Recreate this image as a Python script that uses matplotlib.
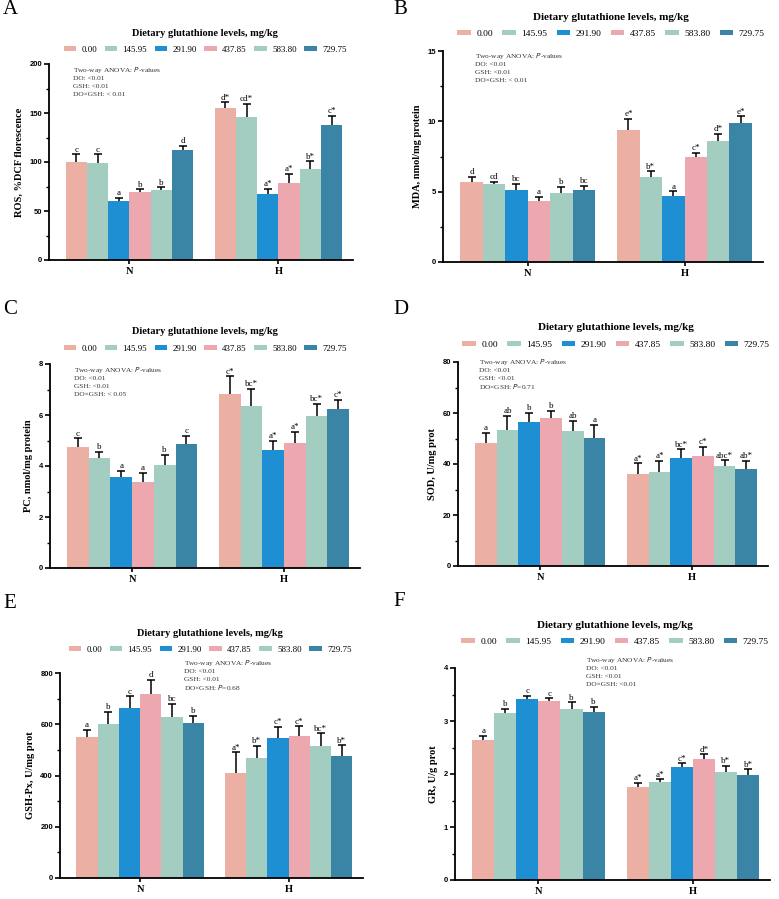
import matplotlib
matplotlib.use("Agg")
import matplotlib.pyplot as plt
import numpy as np

plt.rcParams['font.family'] = ['Liberation Serif', 'DejaVu Serif']

# ---- data ----
groups = ["N", "H"]
levels = ["0.00", "145.95", "291.90", "437.85", "583.80", "729.75"]
colors = ["#ebb0a3", "#a3cdc0", "#1f8fd3", "#eda8af", "#a3cdc0", "#3a84a5"]

ros_mean = [[99.7, 98.6, 60.5, 69.5, 71.5, 112.6], [155.4, 145.6, 67.2, 78.8, 92.9, 137.8]]
ros_err = [[8.1, 9.2, 2.8, 2.7, 2.5, 4.1], [5.5, 13.6, 5.2, 9.4, 7.8, 9.1]]
ros_sig = [["c", "c", "a", "b", "b", "d"], ["d*", "cd*", "a*", "a*", "b*", "c*"]]

mda_mean = [[5.66, 5.52, 5.12, 4.31, 4.88, 5.12], [9.36, 6.04, 4.67, 7.44, 8.60, 9.88]]
mda_err = [[0.41, 0.17, 0.43, 0.31, 0.45, 0.28], [0.81, 0.41, 0.35, 0.33, 0.52, 0.48]]
mda_sig = [["d", "cd", "bc", "a", "b", "bc"], ["e*", "b*", "a", "c*", "d*", "e*"]]

pc_mean = [[4.76, 4.30, 3.55, 3.38, 4.04, 4.87], [6.82, 6.36, 4.62, 4.89, 5.95, 6.22]]
pc_err = [[0.33, 0.26, 0.27, 0.36, 0.39, 0.32], [0.69, 0.66, 0.38, 0.46, 0.48, 0.38]]
pc_sig = [["c", "b", "a", "a", "b", "c"], ["c*", "bc*", "a*", "a*", "bc*", "c*"]]

sod_mean = [[48.2, 53.3, 56.5, 57.9, 53.1, 50.2], [36.2, 36.9, 42.4, 43.3, 39.1, 38.2]]
sod_err = [[4.0, 5.5, 3.6, 2.9, 3.9, 5.2], [4.1, 4.4, 3.4, 3.4, 2.3, 3.0]]
sod_sig = [["a", "ab", "b", "b", "ab", "a"], ["a*", "a*", "bc*", "c*", "abc*", "ab*"]]

gpx_mean = [[550, 601, 665, 720, 629, 606], [411, 469, 547, 553, 516, 477]]
gpx_err = [[29, 47, 44, 52, 50, 27], [79, 47, 42, 39, 48, 41]]
gpx_sig = [["a", "b", "c", "d", "bc", "b"], ["a*", "b*", "c*", "c*", "bc*", "b*"]]

gr_mean = [[2.65, 3.16, 3.41, 3.38, 3.22, 3.17], [1.76, 1.85, 2.13, 2.29, 2.03, 1.98]]
gr_err = [[0.07, 0.07, 0.06, 0.05, 0.13, 0.10], [0.07, 0.05, 0.07, 0.08, 0.13, 0.11]]
gr_sig = [["a", "b", "c", "c", "b", "b"], ["a*", "a*", "c*", "d*", "b*", "b*"]]

W, H = 779, 899
fig = plt.figure(figsize=(W / 100, H / 100), dpi=100)


def draw_panel(letter, ylabel, mean, err, sig, ymax, ystep, inter,
               box, title_xy, letter_xy, anova_xy, big=False):
    x0, x1, y0, y1 = box  # pixels: left, right, top(ymax), bottom(0)
    ax = fig.add_axes([x0 / W, 1 - y1 / H, (x1 - x0) / W, (y1 - y0) / H])
    bw = 0.143
    handles = []
    for g in range(2):
        for i in range(6):
            xpos = g + (i - 2.5) * bw
            ax.errorbar(xpos, mean[g][i], yerr=err[g][i], color="black",
                        lw=1.1, capsize=3.0, capthick=1.1, zorder=1)
            b = ax.bar(xpos, mean[g][i], width=bw, color=colors[i], zorder=2,
                       label=levels[i] if g == 0 else None)
            if g == 0:
                handles.append(b)
            ax.annotate(sig[g][i], (xpos, mean[g][i] + err[g][i]),
                        xytext=(0, 0.5), textcoords="offset points",
                        ha="center", va="bottom", fontsize=6.5)
    ax.set_xlim(-0.54, 1.5)
    ax.set_ylim(0, ymax)
    ax.set_yticks(np.arange(0, ymax + ystep / 2, ystep))
    ax.set_yticks(np.arange(0, ymax, ystep / 2), minor=True)
    ax.set_xticks([0, 1])
    ax.set_xticklabels(groups, fontweight="bold", fontsize=7.5)
    for t in ax.get_yticklabels():
        t.set_family("Liberation Sans")
        t.set_fontweight("bold")
        t.set_fontsize(5.5)
    ax.tick_params(axis="y", which="major", length=3.5, width=1.2, pad=1.5)
    ax.tick_params(axis="y", which="minor", length=2, width=1.0)
    ax.tick_params(axis="x", length=3, width=1.2, pad=2)
    for s in ["top", "right"]:
        ax.spines[s].set_visible(False)
    for s in ["left", "bottom"]:
        ax.spines[s].set_linewidth(1.3)
    ax.set_ylabel(ylabel, fontweight="bold", fontsize=7.5, labelpad=4)

    # right-hand panels are drawn a little larger in the original figure
    tsize, lsize, cspace = (8.0, 6.8, 1.0) if big else (7.5, 6.4, 0.85)
    tx, ty = title_xy
    fig.text(tx / W, 1 - ty / H, "Dietary glutathione levels, mg/kg",
             ha="center", va="center", fontweight="bold", fontsize=tsize)
    fig.legend(handles=handles, loc="center", ncol=6, frameon=False,
               bbox_to_anchor=(tx / W, 1 - (ty + 17) / H),
               fontsize=lsize, handlelength=1.4, handleheight=0.45,
               handletextpad=0.6, columnspacing=cspace, borderaxespad=0,
               borderpad=0)
    lx, ly = letter_xy
    fig.text(lx / W, 1 - ly / H, letter, ha="left", va="center", fontsize=15)
    axx, axy = anova_xy
    lines = [r"Two-way ANOVA: $\it{P}$-values", "DO: <0.01", "GSH: <0.01", inter]
    for k, s in enumerate(lines):
        fig.text(axx / W, 1 - (axy + k * 8.3) / H, s, ha="left", va="center",
                 fontsize=5.3, color="#333333")
    return ax


draw_panel("A", "ROS, %DCF florescence", ros_mean, ros_err, ros_sig, 200, 50,
           "DO×GSH: < 0.01", (49, 353, 64, 260), (205, 33), (3, 10), (73, 70))
draw_panel("B", "MDA, nmol/mg protein", mda_mean, mda_err, mda_sig, 15, 5,
           "DO×GSH: < 0.01", (443, 763, 51, 262), (611, 17), (393, 9), (475, 56), big=True)
draw_panel("C", "PC, nmol/mg protein", pc_mean, pc_err, pc_sig, 8, 2,
           "DO×GSH: < 0.05", (50, 360, 364, 568), (205, 332), (3, 310), (74, 370))
draw_panel("D", "SOD, U/mg prot", sod_mean, sod_err, sod_sig, 80, 20,
           r"DO×GSH: $\it{P}$=0.71", (458, 768, 362, 566), (616, 328), (393, 310), (479, 362), big=True)
draw_panel("E", "GSH-Px, U/mg prot", gpx_mean, gpx_err, gpx_sig, 800, 200,
           r"DO×GSH: $\it{P}$=0.68", (60, 363, 673, 878), (210, 633), (3, 604), (184, 663))
draw_panel("F", "GR, U/g prot", gr_mean, gr_err, gr_sig, 4, 1,
           "DO×GSH: <0.01", (455, 770, 668, 880), (615, 625), (393, 602), (586, 660), big=True)

fig.savefig("out.png", dpi=100)
